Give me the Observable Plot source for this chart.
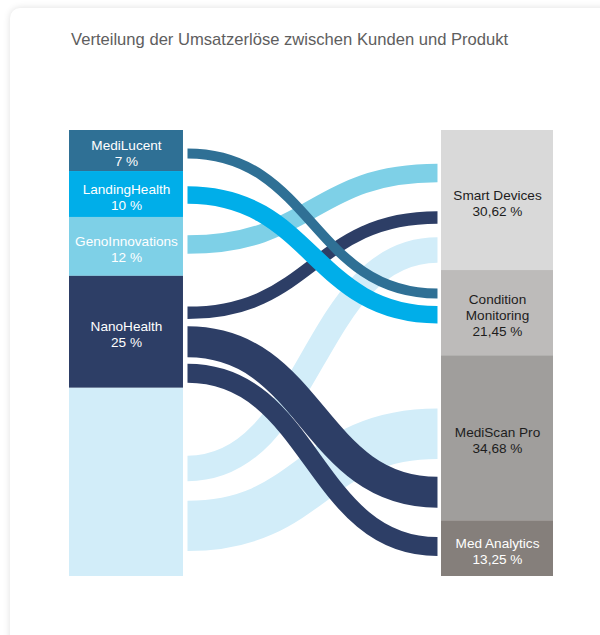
<!DOCTYPE html>
<html>
<head>
<meta charset="utf-8">
<script src="https://cdn.jsdelivr.net/npm/d3@7"></script>
<script src="https://cdn.jsdelivr.net/npm/@observablehq/plot@0.6"></script>
<style>
  html, body { margin: 0; padding: 0; background: #ffffff; overflow: hidden; }
  body { width: 600px; height: 635px; position: relative; font-family: "Liberation Sans", Arial, sans-serif; }
  #card { position: absolute; left: 10px; top: 8px; width: 640px; height: 700px; background: #fff;
          border-radius: 10px; box-shadow: 0 0 7px rgba(0,0,0,0.13); }
  #title { position: absolute; left: 71px; top: 31px; font-size: 16.6px; line-height: 18px; color: #5e5e5e; white-space: nowrap; }
  #chart { position: absolute; left: 0; top: 100px; }
</style>
</head>
<body>
<div id="card"></div>
<div id="title">Verteilung der Umsatzerlöse zwischen Kunden und Produkt</div>
<div id="chart"></div>
<script>
// ---- data ----
const customers = ["MediLucent", "LandingHealth", "GenoInnovations", "NanoHealth", "Weitere Kunden"];
const customerShares = [9.2, 10.3, 13.2, 25.1, 42.2];          // drawn node sizes
const customerLabels = ["7 %", "10 %", "12 %", "25 %", null];

const products = ["Smart Devices", "Condition Monitoring", "MediScan Pro", "Med Analytics"];
const productShares = [31.4, 19.1, 37.0, 12.5];                 // drawn node sizes
const productLabels = ["30,62 %", "21,45 %", "34,68 %", "13,25 %"];

const linkSource = ["Weitere Kunden", "Weitere Kunden", "NanoHealth", "NanoHealth", "NanoHealth", "GenoInnovations", "LandingHealth", "MediLucent"];
const linkTarget = ["Smart Devices", "MediScan Pro", "Smart Devices", "MediScan Pro", "Med Analytics", "Smart Devices", "Condition Monitoring", "Condition Monitoring"];
const linkValue  = [5.72, 11.32, 2.80, 6.95, 4.26, 4.15, 3.92, 2.24];
const linkSourceAt = [0.426, 0.731, 0.326, 0.585, 0.866, 0.46, 0.51, 0.56];  // share of source node above flow centre
const linkTargetAt = [0.854, 0.473, 0.621, 0.827, 0.464, 0.304, 0.518, 0.27]; // share of target node above flow centre

// ---- styles ----
const customerColors = ["#2f7095", "#00aee9", "#7ed0e7", "#2d3e66", "#d2edf9"];
const productColors = ["#d9d9d9", "#bdbbba", "#a09e9c", "#857f7b"];
const productText = ["#1d1d1d", "#1d1d1d", "#1d1d1d", "#ffffff"];

// ---- layout ----
const W = 600, H = 500, yTop = 30, yBottom = 476;
const leftX = [0, 23.55], rightX = [76.86, 100], linkX = [24.38, 76.03];

function stack(names, shares) {
  let acc = 0;
  return names.map((n, i) => { const y0 = acc; acc += shares[i]; return {name: n, y0, y1: acc, size: shares[i], i}; });
}
const leftNodes = stack(customers, customerShares).map(d => ({...d, label: customerLabels[d.i], fill: customerColors[d.i], text: "#ffffff"}));
const rightNodes = stack(products, productShares).map(d => ({...d, label: productLabels[d.i], fill: productColors[d.i], text: productText[d.i]}));
const byName = new Map([...leftNodes, ...rightNodes].map(d => [d.name, d]));

const yScale = Plot.scale({y: {domain: [0, 100], range: [yTop, yBottom]}});
const px = v => Math.abs(yScale.apply(v) - yScale.apply(0));

const links = linkSource.map((s, i) => {
  const src = byName.get(s), tgt = byName.get(linkTarget[i]);
  return {
    color: src.fill,
    width: px(linkValue[i]),
    pts: [
      {x: linkX[0], y: src.y0 + linkSourceAt[i] * src.size},
      {x: linkX[1], y: tgt.y0 + linkTargetAt[i] * tgt.size}
    ]
  };
});

const textOpts = {fontSize: 13.6, lineHeight: 1.18, dy: 2, fontFamily: "Liberation Sans, Arial, sans-serif"};

const chart = Plot.plot({
  width: W, height: H,
  marginLeft: 69, marginRight: 47, marginTop: yTop, marginBottom: H - yBottom,
  x: {domain: [0, 100], axis: null},
  y: {domain: [0, 100], range: [yTop, yBottom], axis: null},
  color: {type: "identity"},
  style: {background: "transparent", fontFamily: "Liberation Sans, Arial, sans-serif"},
  marks: [
    ...links.map(l => Plot.line(l.pts, {x: "x", y: "y", curve: "bump-x", stroke: l.color, strokeWidth: l.width, strokeLinecap: "butt"})),
    Plot.rect(leftNodes, {x1: () => leftX[0], x2: () => leftX[1], y1: "y0", y2: "y1", fill: "fill"}),
    Plot.rect(rightNodes, {x1: () => rightX[0], x2: () => rightX[1], y1: "y0", y2: "y1", fill: "fill"}),
    Plot.text(leftNodes.filter(d => d.label), {x: () => (leftX[0] + leftX[1]) / 2, y: d => (d.y0 + d.y1) / 2,
      text: d => d.name + "\n" + d.label, fill: "text", ...textOpts}),
    Plot.text(rightNodes, {x: () => (rightX[0] + rightX[1]) / 2, y: d => (d.y0 + d.y1) / 2,
      text: d => d.name + "\n" + d.label, fill: "text", lineWidth: 7.5, ...textOpts})
  ]
});
document.getElementById("chart").appendChild(chart);
</script>
</body>
</html>
